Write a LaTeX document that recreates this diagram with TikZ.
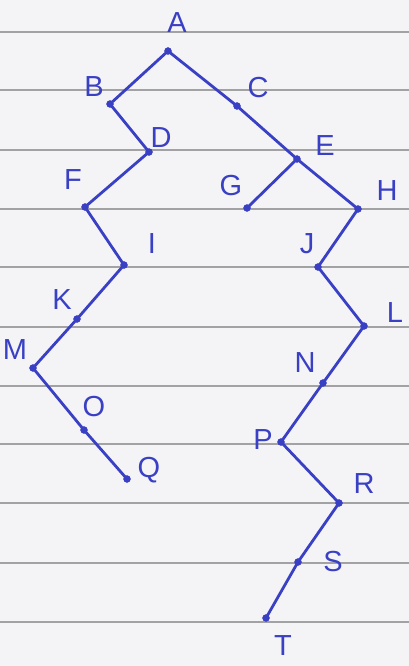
\documentclass[tikz,border=0pt]{standalone}
\usepackage{fontspec}
\setmainfont{Liberation Sans}
\definecolor{ink}{HTML}{3A40C4}
\definecolor{paper}{HTML}{F4F4F6}
\definecolor{rule}{HTML}{A2A2A4}
\begin{document}
\begin{tikzpicture}[x=1pt,y=-1pt,
  vtx/.style={circle,fill=ink,draw=ink,inner sep=0pt,minimum size=7pt},
  lbl/.style={text=ink,font=\fontsize{29}{29}\selectfont,inner sep=0pt},
  edge/.style={draw=ink,line width=2.8pt,line cap=round,line join=round},
  ruled/.style={draw=rule,line width=1.1pt}]
\fill[paper] (0,0) rectangle (409,666);
\useasboundingbox (0,0) rectangle (409,666);
\foreach \y in {32,90,150,209,267,327,386,444,503,563,622}
  \draw[ruled] (0,\y) -- (409,\y);
% vertices
\node[vtx] (A) at (168,51) {};
\node[vtx] (B) at (110,104) {};
\node[vtx] (C) at (237,106) {};
\node[vtx] (D) at (149,152) {};
\node[vtx] (E) at (297,159) {};
\node[vtx] (F) at (85,207) {};
\node[vtx] (G) at (247,208) {};
\node[vtx] (H) at (358,209) {};
\node[vtx] (I) at (124,265) {};
\node[vtx] (J) at (318,267) {};
\node[vtx] (K) at (77,319) {};
\node[vtx] (L) at (364,326) {};
\node[vtx] (M) at (33,368) {};
\node[vtx] (N) at (323,383) {};
\node[vtx] (O) at (84,430) {};
\node[vtx] (P) at (281,442) {};
\node[vtx] (Q) at (127,479) {};
\node[vtx] (R) at (339,503) {};
\node[vtx] (S) at (298,562) {};
\node[vtx] (T) at (266,618) {};
% edges
\foreach \a/\b in {A/B,A/C,B/D,C/E,D/F,E/G,E/H,F/I,H/J,I/K,J/L,K/M,L/N,M/O,N/P,O/Q,P/R,R/S,S/T}
  \draw[edge] (\a.center) -- (\b.center);
% labels
\node[lbl] (lA) at (177,23) {A};
\node[lbl] (lB) at (94,87) {B};
\node[lbl] (lC) at (258,88) {C};
\node[lbl] (lD) at (161,138) {D};
\node[lbl] (lE) at (325,146) {E};
\node[lbl] (lF) at (73,180) {F};
\node[lbl] (lG) at (231,186) {G};
\node[lbl] (lH) at (387,191) {H};
\node[lbl] (lI) at (152,244) {I};
\node[lbl] (lJ) at (307,244) {J};
\node[lbl] (lK) at (62,300) {K};
\node[lbl] (lL) at (395,313) {L};
\node[lbl] (lM) at (15,350) {M};
\node[lbl] (lN) at (305,363) {N};
\node[lbl] (lO) at (94,407) {O};
\node[lbl] (lP) at (263,440) {P};
\node[lbl] (lQ) at (149,470) {Q};
\node[lbl] (lR) at (364,484) {R};
\node[lbl] (lS) at (333,562) {S};
\node[lbl] (lT) at (283,646) {T};
\end{tikzpicture}
\end{document}
